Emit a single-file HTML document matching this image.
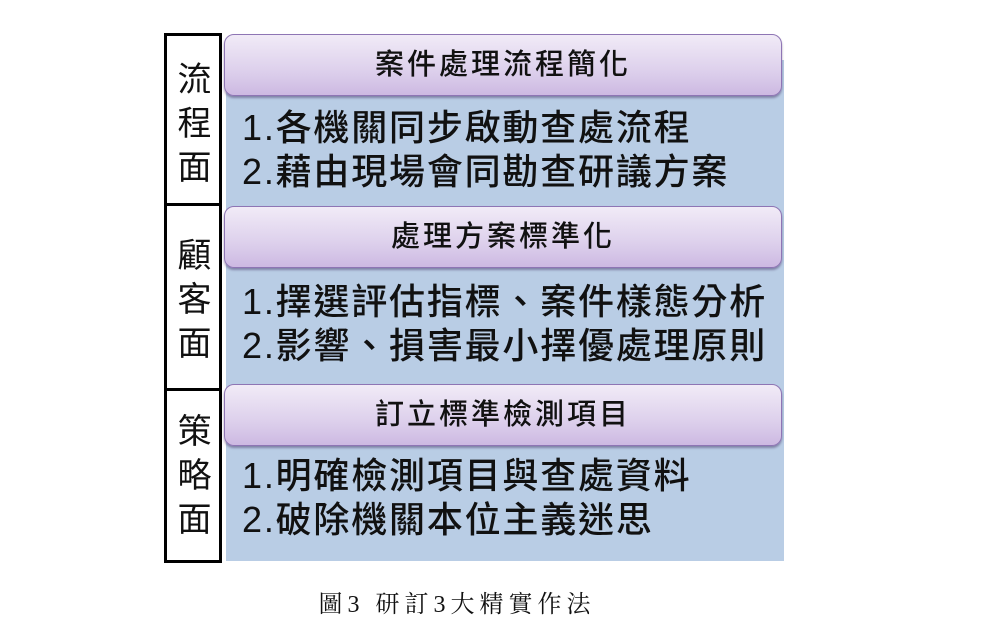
<!DOCTYPE html>
<html><head><meta charset="utf-8"><style>
body{margin:0;width:992px;height:638px;background:#fff;position:relative;overflow:hidden;font-family:"Liberation Sans","Noto Sans CJK TC",sans-serif;}
.lb{position:absolute;left:164px;width:52px;border:3px solid #000;background:#fff;}
.lc{position:absolute;left:167px;width:55px;text-align:center;font-size:34px;line-height:44px;color:#111;}
.blue{position:absolute;left:226px;top:60px;width:558px;height:501px;background:#b9cde5;}
.hd{position:absolute;left:224px;width:556px;height:60px;border:1px solid #8e75b4;border-radius:10px;background:linear-gradient(#f1ebf7,#ddd0ec 60%,#cdb9e2);box-shadow:0 2px 2px rgba(60,40,90,.45);text-align:center;font-size:29px;letter-spacing:3px;line-height:60px;color:#111;font-weight:500;}
.tx{position:absolute;left:242px;font-size:36px;letter-spacing:1.8px;line-height:44px;color:#111;white-space:nowrap;font-weight:500;}
.cap{position:absolute;left:0;width:914px;top:584px;text-align:center;font-family:"Liberation Serif","Noto Serif CJK SC",serif;font-size:24px;letter-spacing:5px;color:#111;}
</style></head><body>
<div class="blue"></div>
<div class="lb" style="top:33px;height:167px"></div>
<div class="lb" style="top:203px;height:182px"></div>
<div class="lb" style="top:388px;height:169px"></div>
<div class="lc" style="top:58px">流<br>程<br>面</div>
<div class="lc" style="top:234px">顧<br>客<br>面</div>
<div class="lc" style="top:410px">策<br>略<br>面</div>
<div class="hd" style="top:34px">案件處理流程簡化</div>
<div class="tx" style="top:106px">1.各機關同步啟動查處流程<br>2.藉由現場會同勘查研議方案</div>
<div class="hd" style="top:206px">處理方案標準化</div>
<div class="tx" style="top:280px">1.擇選評估指標、案件樣態分析<br>2.影響、損害最小擇優處理原則</div>
<div class="hd" style="top:384px">訂立標準檢測項目</div>
<div class="tx" style="top:454px">1.明確檢測項目與查處資料<br>2.破除機關本位主義迷思</div>
<div class="cap">圖3 研訂3大精實作法</div>
</body></html>
